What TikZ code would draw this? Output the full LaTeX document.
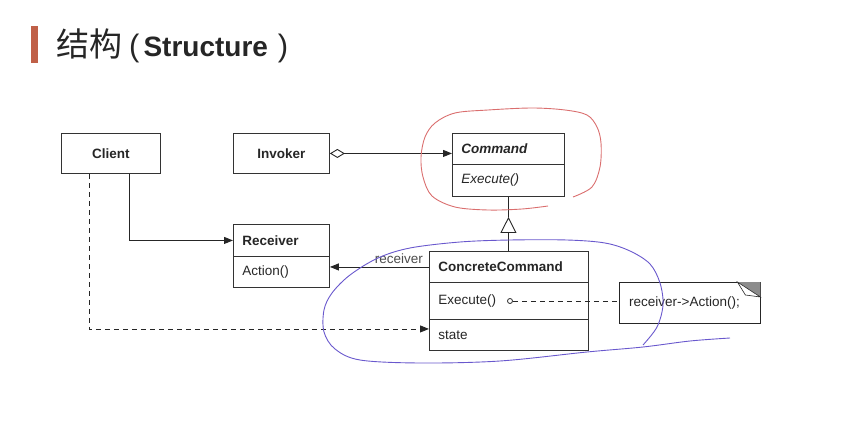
\documentclass[tikz,border=0pt]{standalone}
\usepackage{fontspec}
\setmainfont{Liberation Sans}
\newfontfamily\cjk{Noto Sans CJK SC}
\usetikzlibrary{arrows.meta}
\definecolor{titlebar}{RGB}{192,96,72}
\definecolor{inkred}{RGB}{218,110,110}
\definecolor{inkblue}{RGB}{105,88,205}
\begin{document}
\begin{tikzpicture}[x=1pt,y=-1pt,
  umlfont/.style={font=\fontsize{13.5}{16}\selectfont},
  box/.style={draw=black!80, line width=0.9pt, anchor=north west, inner ysep=0pt, umlfont, text=black!85},
  plainbox/.style={box, inner xsep=0pt, align=center},
  cls/.style={box, inner xsep=9pt, align=left},
  conn/.style={draw=black!85, line width=0.9pt},
  tip/.style={-{Triangle[length=9pt,width=7pt]}},
  dashline/.style={dash pattern=on 5pt off 4pt},
  hand/.style={line width=0.9pt, smooth, tension=0.55}
]
\useasboundingbox (0,0) rectangle (849,425);

% heading
\fill[titlebar] (31,26) rectangle (38,63);
\node[anchor=base west, inner sep=0pt, text=black!85] (title) at (56,57)
  {{\cjk\fontsize{33}{36}\selectfont 结构}\hspace{7pt}{\fontsize{31}{34}\selectfont (}\hspace{4pt}{\fontsize{28}{34}\selectfont\bfseries Structure}\hspace{10pt}{\fontsize{31}{34}\selectfont )}};

% classes
\node[plainbox, minimum width=99pt, minimum height=40pt, font=\fontsize{13.5}{16}\selectfont\bfseries] (client) at (61,133) {Client};
\node[plainbox, minimum width=96pt, minimum height=40pt, font=\fontsize{13.5}{16}\selectfont\bfseries] (invoker) at (233,133) {Invoker};

\node[cls, text width=94pt, minimum height=31pt, font=\fontsize{13.5}{16}\selectfont\bfseries\itshape] (cmd) at (452,133) {Command};
\node[cls, text width=94pt, minimum height=32pt, font=\fontsize{13.5}{16}\selectfont\itshape] (cmdops) at (452,164) {Execute()};

\node[cls, text width=78pt, minimum height=32pt, font=\fontsize{13.5}{16}\selectfont\bfseries] (recv) at (233,224) {Receiver};
\node[cls, text width=78pt, minimum height=31pt] (recvops) at (233,256) {Action()};

\node[cls, text width=141pt, minimum height=31pt, font=\fontsize{13.5}{16}\selectfont\bfseries] (cc) at (429,251) {ConcreteCommand};
\node[cls, text width=141pt, minimum height=37pt] (ccops) at (429,282) {Execute()};
\node[cls, text width=141pt, minimum height=31pt] (ccstate) at (429,319) {state};

% note with folded corner
\node[anchor=north west, text width=121pt, inner xsep=10pt, minimum height=41pt, inner ysep=0pt, align=left, umlfont, text=black!85] (note) at (619,282) {receiver->Action();};
\draw[conn] (note.north west) rectangle (note.south east);
\fill[black!45] ([xshift=-23pt]note.north east) -- (note.north east) -- ([yshift=-15pt]note.north east) -- cycle;
\draw[conn, line width=0.6pt, fill=white] ([xshift=-23pt]note.north east) -- ([xshift=-15pt,yshift=-13pt]note.north east) -- ([yshift=-15pt]note.north east) -- cycle;

% connectors
\draw[conn, {Diamond[open,length=15pt,width=9pt]}-{Triangle[length=9pt,width=7pt]}] (invoker.east) -- (invoker.east -| cmd.west);

\coordinate (genapex) at ([yshift=-20pt]cmdops.south);
\draw[conn] (cmdops.south) -- (genapex);
\draw[conn, -{Triangle[open,length=16pt,width=16pt]}] (genapex |- cc.north) -- (genapex);

\draw[conn, tip] ([xshift=68pt]client.south west) |- (recv.west);
\draw[conn, dashline, tip] ([xshift=28pt]client.south west) |- ([yshift=6pt]ccstate.west);

\draw[conn, tip] (cc.west) -- (cc.west -| recvops.east);
\node[anchor=south east, inner xsep=6pt, inner ysep=3pt, umlfont, text=black!70] (rlabel) at (cc.west) {receiver};

\node[circle, draw=black!85, line width=0.8pt, inner sep=0pt, minimum size=5pt] (execdot) at (510,301) {};
\draw[conn, dashline] (execdot.east) -- (execdot.east -| note.west);

% hand-drawn marks
\draw[inkred, hand] plot coordinates {(573,197) (592,187) (600,167) (601,143) (597,127) (587,115) (565,110) (532,108) (488,110) (455,113) (435,123) (425,137) (421,157) (423,177) (432,196) (455,207) (488,210) (522,209) (548,206)};
\draw[inkblue, hand] plot coordinates {(730,338) (690,341) (643,347) (587,352) (500,361) (420,363) (360,360) (335,349) (324,332) (324,310) (332,293) (350,275) (378,258) (410,248) (460,242) (510,240) (567,240) (605,243) (630,251) (650,264) (660,283) (663,305) (657,327) (643,345)};
\end{tikzpicture}
\end{document}
